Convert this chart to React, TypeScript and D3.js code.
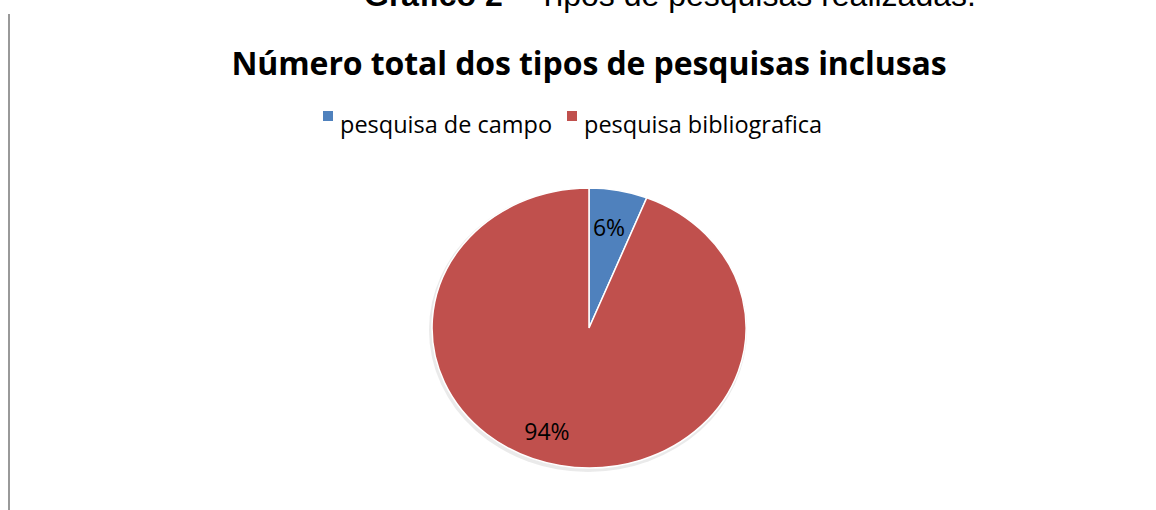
import React from 'react';
import * as d3 from 'd3';

const categories = ['pesquisa de campo', 'pesquisa bibliografica'];
const values = [6, 94];
const colors = ['#4F81BD', '#C0504D'];

const W = 1156;
const H = 510;

const App = () => {
  const cx = 589;
  const cy = 328;
  const rx = 157;
  const ry = 140;

  const pie = d3.pie<number>().sort(null).value(d => d)(values);
  const arc = d3.arc<d3.PieArcDatum<number>>().innerRadius(0).outerRadius(1);

  // label placement (Excel "best fit" roughly)
  const labelR = [0.725, 0.785];
  const labelShift = [-0.012, 0.16];
  const labelPos = pie.map((p, i) => {
    const a = (p.startAngle + p.endAngle) / 2 + labelShift[i];
    return [cx + rx * labelR[i] * Math.sin(a), cy - ry * labelR[i] * Math.cos(a)];
  });

  const font = 'Open Sans, Noto Sans, sans-serif';

  return (
    <svg width={W} height={H} style={{ position: 'absolute', left: 0, top: 0, background: '#fff' }}>
      <line x1={9} x2={9} y1={14} y2={H} stroke="#999" strokeWidth={2} />
      <text x={364} y={6} fontFamily="Liberation Sans, Arial, sans-serif" fontSize={32} fill="#000">
        <tspan fontWeight="bold">Gráfico 2</tspan>
        <tspan> – Tipos de pesquisas realizadas.</tspan>
      </text>

      <text x={589} y={75} textAnchor="middle" fontFamily={font} fontWeight="bold" fontSize={32}
        letterSpacing={-0.1} fill="#000">
        Número total dos tipos de pesquisas inclusas
      </text>

      {categories.map((c, i) => {
        const x0 = i === 0 ? 323 : 567;
        return (
          <g key={c}>
            <rect x={x0} y={111} width={10} height={10} fill={colors[i]} />
            <text x={x0 + 17} y={133} fontFamily={font} fontSize={23.5} fill="#000">{c}</text>
          </g>
        );
      })}

      <ellipse cx={cx - 1} cy={cy + 2} rx={rx + 2} ry={ry + 2} fill="#dcdcdc" opacity={0.6} />
      <g transform={`translate(${cx},${cy}) scale(${rx},${ry})`}>
        {pie.map((p, i) => (
          <path key={i} d={arc(p) || ''} fill={colors[i]} stroke="#fff" strokeWidth={1.5}
            vectorEffect="non-scaling-stroke" />
        ))}
      </g>

      {pie.map((p, i) => (
        <text key={i} x={labelPos[i][0]} y={labelPos[i][1]} dy="0.36em" textAnchor="middle"
          fontFamily={font} fontSize={23} fill="#000">
          {p.data}%
        </text>
      ))}
    </svg>
  );
};

export default App;
